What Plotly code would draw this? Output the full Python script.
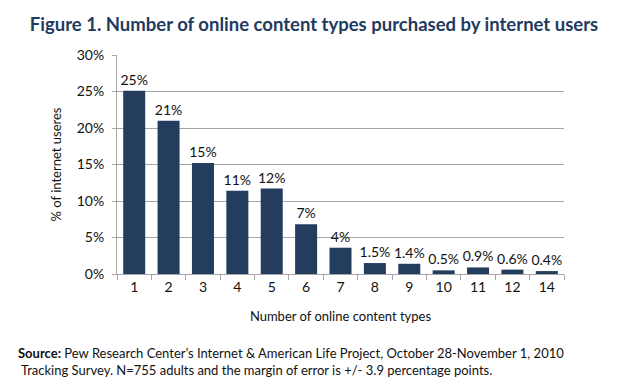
import plotly.graph_objects as go

categories = ["1", "2", "3", "4", "5", "6", "7", "8", "9", "10", "11", "12", "14"]
values = [25.1, 21.0, 15.2, 11.4, 11.7, 6.8, 3.6, 1.5, 1.4, 0.5, 0.9, 0.6, 0.4]
labels = ["25%", "21%", "15%", "11%", "12%", "7%", "4%", "1.5%", "1.4%", "0.5%", "0.9%", "0.6%", "0.4%"]

FONT = "Lato"
BAR = "#243d5f"
GRID = "#a6a6a6"

fig = go.Figure(go.Bar(
    x=categories, y=values, text=labels, textposition="outside", constraintext="none",
    textfont=dict(family=FONT, size=14, color="#111"),
    marker=dict(color=BAR, line=dict(width=0)), cliponaxis=False,
))

fig.update_layout(
    width=612, height=372,
    margin=dict(l=109, r=56, t=47, b=106),
    paper_bgcolor="white", plot_bgcolor="white",
    bargap=0.36, showlegend=False,
    font=dict(family=FONT, size=13, color="#111"),
    title=dict(text="<b>Figure 1. Number of online content types purchased by internet users</b>",
               x=0.5, xanchor="center", y=1 - 17 / 372, yanchor="middle",
               font=dict(family=FONT, size=18.5, color="#1f3a60")),
    annotations=[
        dict(text="<b>Source:</b> Pew Research Center\u2019s Internet & American Life Project, October 28-November 1, 2010<br> Tracking Survey. N=755 adults and the margin of error is +/- 3.9 percentage points.",
             xref="paper", yref="paper", x=(8 - 109) / 447, y=-(335 - 266) / 219, xanchor="left", yanchor="top",
             align="left", showarrow=False, font=dict(family=FONT, size=13, color="#111")),
    ],
)
fig.update_yaxes(range=[0, 30], dtick=5, ticksuffix="%", showgrid=True, gridcolor=GRID, gridwidth=1,
                 showline=True, linecolor=GRID, ticks="outside", ticklen=4, tickcolor=GRID,
                 tickfont=dict(size=14), zeroline=False, ticklabelstandoff=5,
                 title=dict(text="% of internet useres", font=dict(size=13), standoff=12))
fig.update_xaxes(showline=True, linecolor=GRID, ticks="outside", tickson="boundaries", ticklen=5,
                 tickcolor=GRID, tickfont=dict(size=14),
                 title=dict(text="Number of online content types", font=dict(size=13), standoff=18))

fig.write_html("out.html")
